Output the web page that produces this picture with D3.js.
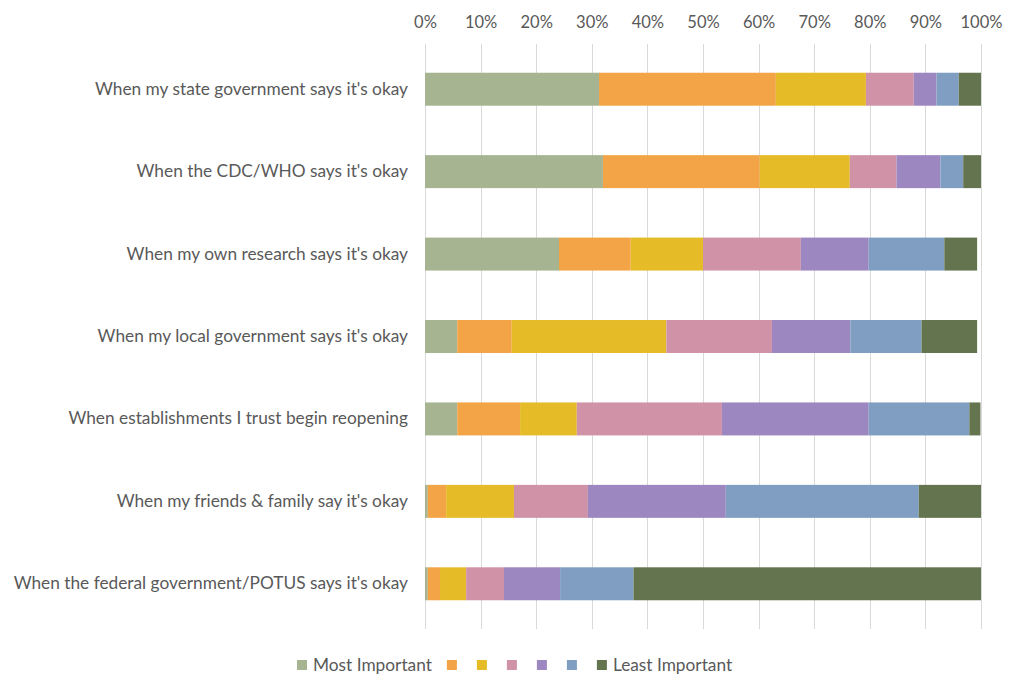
<!DOCTYPE html>
<html>
<head>
<meta charset="utf-8">
<script src="https://cdn.jsdelivr.net/npm/d3@7"></script>
<style>
  html, body { margin: 0; padding: 0; background: #fff; }
  svg { display: block; }
  text { font-family: Lato, "Liberation Sans", sans-serif; fill: #595959; }
</style>
</head>
<body>
<svg id="chart" width="1025" height="696"></svg>
<script>
const categories = [
  "When my state government says it's okay",
  "When the CDC/WHO says it's okay",
  "When my own research says it's okay",
  "When my local government says it's okay",
  "When establishments I trust begin reopening",
  "When my friends & family say it's okay",
  "When the federal government/POTUS says it's okay"
];
const seriesNames = ["Most Important", "", "", "", "", "", "Least Important"];
const seriesColors = ["#a6b491", "#f2a447", "#e5bc28", "#d092a7", "#9d87c0", "#7f9ec2", "#64744f"];
// values per category (percent), one entry per series (Most -> Least important)
const rank1 = [31.3, 32.0, 24.1, 5.8, 5.8, 0.5, 0.5];
const rank2 = [31.8, 28.2, 12.9, 9.8, 11.3, 3.3, 2.2];
const rank3 = [16.2, 16.2, 13.0, 27.8, 10.2, 12.2, 4.7];
const rank4 = [8.6, 8.4, 17.6, 19.0, 26.1, 13.3, 6.8];
const rank5 = [4.1, 7.9, 12.2, 14.1, 26.4, 24.8, 10.1];
const rank6 = [4.0, 4.1, 13.6, 12.8, 18.1, 34.7, 13.2];
const rank7 = [4.0, 3.2, 5.9, 10.0, 2.0, 11.2, 62.5];
const tickValues = [0, 10, 20, 30, 40, 50, 60, 70, 80, 90, 100];

const seriesValues = [rank1, rank2, rank3, rank4, rank5, rank6, rank7];
const keys = seriesValues.map((_, i) => "s" + i);
const table = categories.map((c, ci) => {
  const row = { category: c };
  keys.forEach((k, si) => row[k] = seriesValues[si][ci]);
  return row;
});
const stacked = d3.stack().keys(keys)(table);

const svg = d3.select("#chart");
const margin = { left: 425, right: 44, top: 48, bottom: 71 };
const W = 1025, H = 696;

const x = d3.scaleLinear().domain([0, 100]).range([margin.left, W - margin.right]);
const y = d3.scaleBand().domain(categories).range([margin.top, H - margin.bottom]).paddingInner(0.6).paddingOuter(0.3);

// gridlines
svg.append("g")
  .selectAll("line")
  .data(tickValues)
  .join("line")
  .attr("x1", d => Math.round(x(d)) + 0.5)
  .attr("x2", d => Math.round(x(d)) + 0.5)
  .attr("y1", margin.top - 4)
  .attr("y2", H - margin.bottom + 4)
  .attr("stroke", "#d9d9d9")
  .attr("stroke-width", 1);

// top axis labels
const xAxis = d3.axisTop(x).tickValues(tickValues).tickFormat(d => d + "%").tickSize(0).tickPadding(0);
const gx = svg.append("g").attr("transform", `translate(0, 28)`).call(xAxis);
gx.select(".domain").remove();
gx.selectAll("text").attr("font-size", 16.5).style("font-family", "Lato, 'Liberation Sans', sans-serif").attr("fill", "#595959");

// bars
svg.append("g")
  .selectAll("g")
  .data(stacked)
  .join("g")
  .attr("fill", (d, i) => seriesColors[i])
  .selectAll("rect")
  .data(d => d)
  .join("rect")
  .attr("x", d => x(d[0]))
  .attr("width", d => x(d[1]) - x(d[0]))
  .attr("y", d => y(d.data.category))
  .attr("height", y.bandwidth());

// category labels
const yAxis = d3.axisLeft(y).tickSize(0).tickPadding(17);
const gy = svg.append("g").attr("transform", `translate(${margin.left}, 0)`).call(yAxis);
gy.select(".domain").remove();
gy.selectAll("text").attr("font-size", 17.3).style("font-family", "Lato, 'Liberation Sans', sans-serif").attr("fill", "#595959");

// legend
const legend = svg.append("g");
let lx = 297;
const ly = 665;
seriesNames.forEach((name, i) => {
  legend.append("rect")
    .attr("x", lx).attr("y", ly - 5).attr("width", 10).attr("height", 10)
    .attr("fill", seriesColors[i]);
  lx += 10;
  if (name) {
    const t = legend.append("text")
      .attr("x", lx + 6).attr("y", ly).attr("dy", "0.35em")
      .attr("font-size", 17.3).text(name);
    lx += 6 + t.node().getComputedTextLength();
  }
  lx += name ? 15 : 20;
});
</script>
</body>
</html>
